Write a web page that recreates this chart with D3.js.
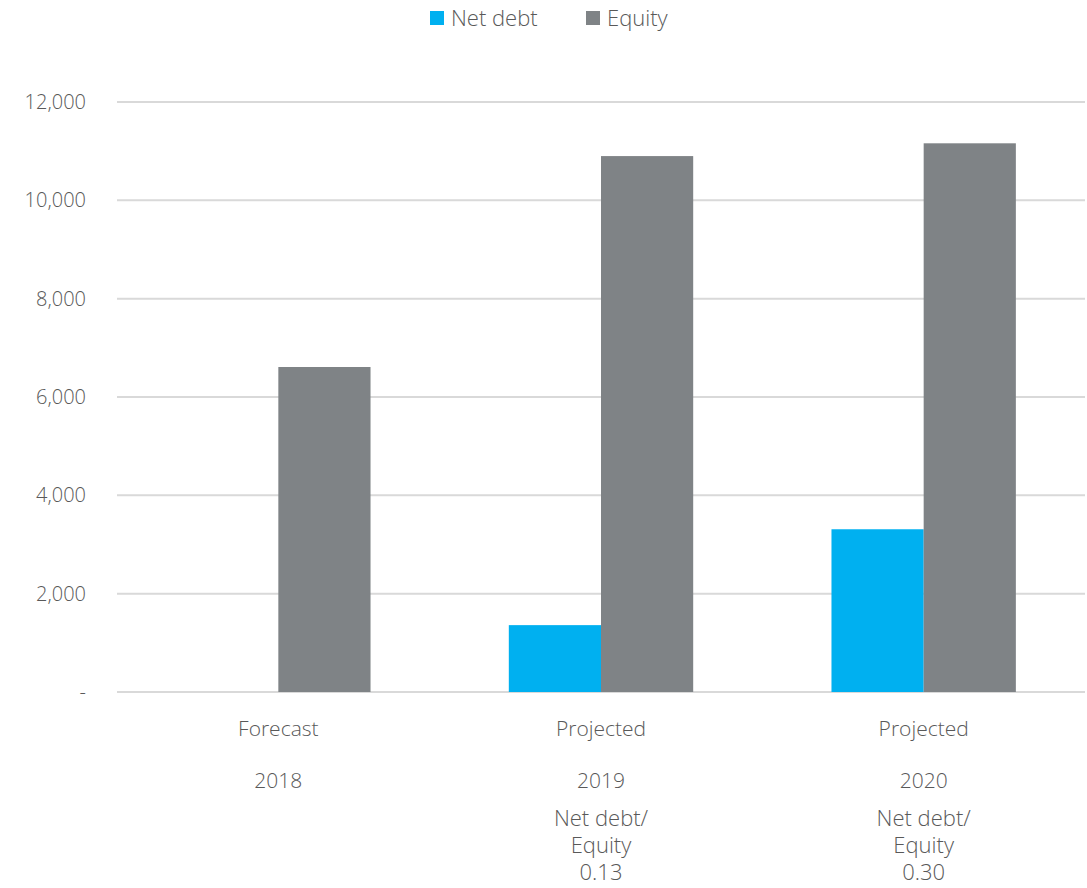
<!DOCTYPE html>
<html>
<head>
<meta charset="utf-8">
<title>Net debt and Equity</title>
<style>
  body { margin: 0; background: #fff; }
  text { font-family: 'Open Sans', 'Segoe UI', sans-serif; font-weight: 300; fill: #595959; }
</style>
</head>
<body>
<script src="https://d3js.org/d3.v7.min.js"></script>
<script>

// data
var periods = ["Forecast", "Projected", "Projected"];
var years = ["2018", "2019", "2020"];
var netDebt = [0, 1360, 3310];
var equity = [6610, 10900, 11160];
var ratios = [null, "0.13", "0.30"];
var yTicks = [0, 2000, 4000, 6000, 8000, 10000, 12000];
var seriesNames = ["Net debt", "Equity"];
var colors = ["#00b0f0", "#7f8386"];

var W = 1087, H = 888;
var margin = {top: 102, right: 2, bottom: 196, left: 117};

var svg = d3.select("body").append("svg")
    .attr("width", W)
    .attr("height", H);

var x = d3.scaleBand()
    .domain(years)
    .range([margin.left, W - margin.right])
    .paddingInner(0)
    .paddingOuter(0);

var x1 = d3.scaleBand()
    .domain(seriesNames)
    .range([0, x.bandwidth()])
    .paddingOuter(0.75)
    .paddingInner(0);

var y = d3.scaleLinear()
    .domain([0, 12000])
    .range([H - margin.bottom, margin.top]);

// gridlines
svg.append("g")
    .selectAll("line")
    .data(yTicks)
    .join("line")
    .attr("x1", margin.left)
    .attr("x2", W - margin.right)
    .attr("y1", function(d) { return y(d); })
    .attr("y2", function(d) { return y(d); })
    .attr("stroke", "#d9d9d9")
    .attr("stroke-width", 2);

// y axis labels
var yAxis = d3.axisLeft(y)
    .tickValues(yTicks)
    .tickSize(0)
    .tickPadding(31)
    .tickFormat(function(d) { return d === 0 ? "-" : d3.format(",")(d); });

svg.append("g")
    .attr("transform", "translate(" + margin.left + ",0)")
    .call(yAxis)
    .call(function(g) { g.select(".domain").remove(); })
    .selectAll("text")
    .style("font-size", "20px")
    .style("font-family", "'Open Sans', sans-serif")
    .attr("fill", "#595959");

// bars
var rows = years.map(function(yr, i) {
    return {year: yr, values: [netDebt[i], equity[i]]};
});

var groups = svg.append("g")
    .selectAll("g")
    .data(rows)
    .join("g")
    .attr("transform", function(d) { return "translate(" + x(d.year) + ",0)"; });

groups.selectAll("rect")
    .data(function(d) {
        return d.values.map(function(v, j) { return {name: seriesNames[j], value: v, c: colors[j]}; });
    })
    .join("rect")
    .filter(function(d) { return d.value > 0; })
    .attr("x", function(d) { return x1(d.name); })
    .attr("width", x1.bandwidth())
    .attr("y", function(d) { return y(d.value); })
    .attr("height", function(d) { return y(0) - y(d.value); })
    .attr("fill", function(d) { return d.c; });

// category labels
var cat = svg.append("g");
years.forEach(function(yr, i) {
    var cx = x(yr) + x.bandwidth() / 2;
    cat.append("text")
        .attr("x", cx).attr("y", 736)
        .attr("text-anchor", "middle")
        .style("font-size", "21px")
        .text(periods[i]);
    cat.append("text")
        .attr("x", cx).attr("y", 788)
        .attr("text-anchor", "middle")
        .style("font-size", "21px")
        .text(yr);
    if (ratios[i]) {
        var lines = ["Net debt/", "Equity", ratios[i]];
        lines.forEach(function(t, k) {
            cat.append("text")
                .attr("x", cx).attr("y", 826 + k * 27)
                .attr("text-anchor", "middle")
                .style("font-size", "22px")
                .text(t);
        });
    }
});

// legend
var legend = svg.append("g");
var legX = [430, 586];
seriesNames.forEach(function(name, i) {
    legend.append("rect")
        .attr("x", legX[i]).attr("y", 11)
        .attr("width", 14).attr("height", 14)
        .attr("fill", colors[i]);
    legend.append("text")
        .attr("x", legX[i] + 21).attr("y", 26)
        .style("font-size", "22px")
        .text(name);
});

</script>
</body>
</html>
